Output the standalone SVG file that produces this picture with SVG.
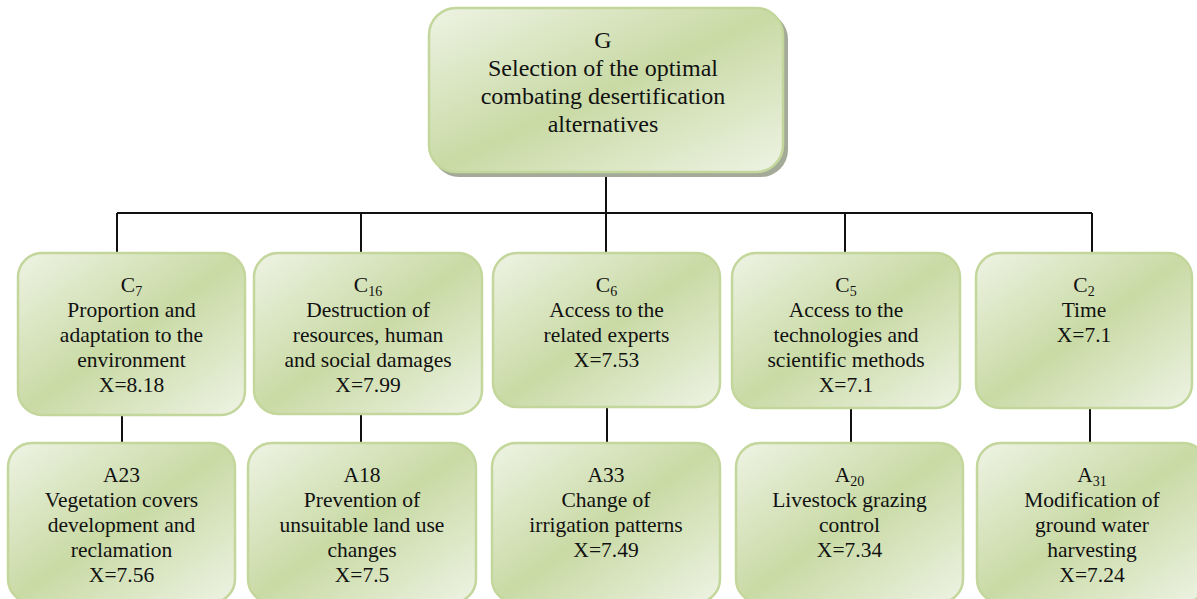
<svg xmlns="http://www.w3.org/2000/svg" width="1197" height="599" viewBox="0 0 1197 599">
  <defs>
    <linearGradient id="g" x1="0" y1="0" x2="1" y2="1">
      <stop offset="0" stop-color="#eef3e4"/>
      <stop offset="0.5" stop-color="#c9daa5"/>
      <stop offset="1" stop-color="#eef3e4"/>
    </linearGradient>
  </defs>
  <style>
    .box { fill: url(#g); stroke: #c3d69b; stroke-width: 2.5; }
    .shadow { fill: #a4aa98; }
    text { font-family: 'Liberation Serif', 'DejaVu Serif', serif; fill: #111; text-anchor: middle; }
    .t { font-size: 21.5px; }
    .tt { font-size: 24px; }
    .sub { font-size: 14px; }
    .c { stroke: #111; stroke-width: 2; fill: none; }
  </style>

  <g id="connectors">
    <path class="c" d="M606 172 V213 M117 213 H1092 M117 213 V253 M361 213 V253 M606 213 V253 M845 213 V253 M1092 213 V253"/>
    <path class="c" d="M122 415 V443 M361 414 V443 M607 407 V443 M851 408 V443 M1090 408 V443"/>
  </g>

  <g id="G">
    <rect class="shadow" x="432" y="12" width="356" height="165" rx="27"/>
    <rect class="box" x="429" y="8" width="354" height="164" rx="27"/>
    <text class="tt" x="603" y="48">G</text>
    <text class="tt" x="603" y="76">Selection of the optimal</text>
    <text class="tt" x="603" y="104">combating desertification</text>
    <text class="tt" x="603" y="132">alternatives</text>
  </g>

  <g id="C7">
    <rect class="box" x="18" y="253" width="227" height="162" rx="24"/>
    <text class="t" x="131.5" y="292">C<tspan class="sub" dy="4">7</tspan></text>
    <text class="t" x="131.5" y="317">Proportion and</text>
    <text class="t" x="131.5" y="342">adaptation to the</text>
    <text class="t" x="131.5" y="367">environment</text>
    <text class="t" x="131.5" y="392">X=8.18</text>
  </g>

  <g id="C16">
    <rect class="box" x="254" y="253" width="228" height="161" rx="24"/>
    <text class="t" x="368" y="292">C<tspan class="sub" dy="4">16</tspan></text>
    <text class="t" x="368" y="317">Destruction of</text>
    <text class="t" x="368" y="342">resources, human</text>
    <text class="t" x="368" y="367">and social damages</text>
    <text class="t" x="368" y="392">X=7.99</text>
  </g>

  <g id="C6">
    <rect class="box" x="493" y="253" width="227" height="154" rx="24"/>
    <text class="t" x="606.5" y="292">C<tspan class="sub" dy="4">6</tspan></text>
    <text class="t" x="606.5" y="317">Access to the</text>
    <text class="t" x="606.5" y="342">related experts</text>
    <text class="t" x="606.5" y="367">X=7.53</text>
  </g>

  <g id="C5">
    <rect class="box" x="732" y="253" width="228" height="155" rx="24"/>
    <text class="t" x="846" y="292">C<tspan class="sub" dy="4">5</tspan></text>
    <text class="t" x="846" y="317">Access to the</text>
    <text class="t" x="846" y="342">technologies and</text>
    <text class="t" x="846" y="367">scientific methods</text>
    <text class="t" x="846" y="392">X=7.1</text>
  </g>

  <g id="C2">
    <rect class="box" x="976" y="253" width="216" height="155" rx="24"/>
    <text class="t" x="1084" y="292">C<tspan class="sub" dy="4">2</tspan></text>
    <text class="t" x="1084" y="317">Time</text>
    <text class="t" x="1084" y="342">X=7.1</text>
  </g>

  <g id="A23">
    <rect class="box" x="8" y="443" width="227" height="160" rx="24"/>
    <text class="t" x="121.5" y="482">A23</text>
    <text class="t" x="121.5" y="507">Vegetation covers</text>
    <text class="t" x="121.5" y="532">development and</text>
    <text class="t" x="121.5" y="557">reclamation</text>
    <text class="t" x="121.5" y="582">X=7.56</text>
  </g>

  <g id="A18">
    <rect class="box" x="248" y="443" width="228" height="160" rx="24"/>
    <text class="t" x="362" y="482">A18</text>
    <text class="t" x="362" y="507">Prevention of</text>
    <text class="t" x="362" y="532">unsuitable land use</text>
    <text class="t" x="362" y="557">changes</text>
    <text class="t" x="362" y="582">X=7.5</text>
  </g>

  <g id="A33">
    <rect class="box" x="492" y="443" width="228" height="160" rx="24"/>
    <text class="t" x="606" y="482">A33</text>
    <text class="t" x="606" y="507">Change of</text>
    <text class="t" x="606" y="532">irrigation patterns</text>
    <text class="t" x="606" y="557">X=7.49</text>
  </g>

  <g id="A20">
    <rect class="box" x="736" y="443" width="227" height="160" rx="24"/>
    <text class="t" x="849.5" y="482">A<tspan class="sub" dy="4">20</tspan></text>
    <text class="t" x="849.5" y="507">Livestock grazing</text>
    <text class="t" x="849.5" y="532">control</text>
    <text class="t" x="849.5" y="557">X=7.34</text>
  </g>

  <g id="A31">
    <rect class="box" x="977" y="443" width="230" height="160" rx="24"/>
    <text class="t" x="1092" y="482">A<tspan class="sub" dy="4">31</tspan></text>
    <text class="t" x="1092" y="507">Modification of</text>
    <text class="t" x="1092" y="532">ground water</text>
    <text class="t" x="1092" y="557">harvesting</text>
    <text class="t" x="1092" y="582">X=7.24</text>
  </g>
</svg>
